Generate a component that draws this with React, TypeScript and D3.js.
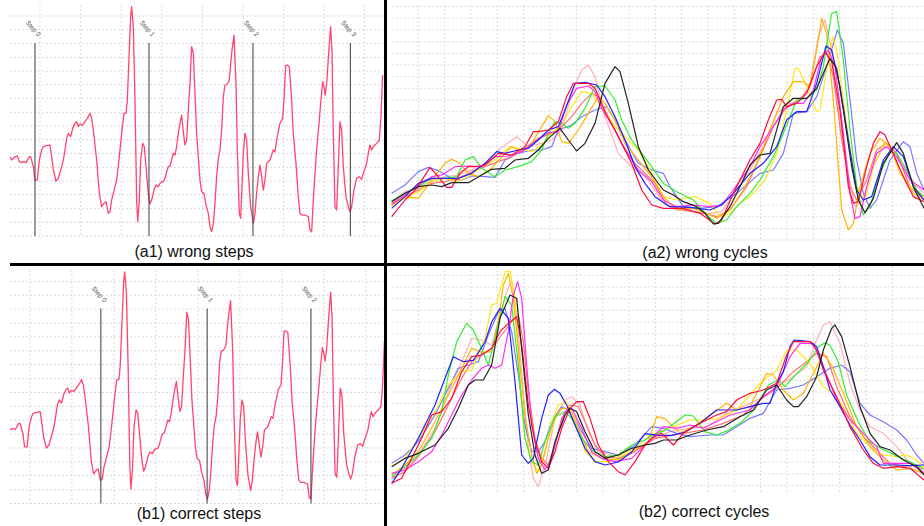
import React from "react";
import * as d3 from "d3";

const W = 924;
const H = 526;

// ---------- gait acceleration signal: [sample, amplitude] ----------
const signal: [number, number][] = [
  [0,240],[5,230],[15,240],[22,242],[28,225],[35,222],[42,225],[48,222],[58,240],[62,240],[70,210],[75,170],[82,170],[88,230],[95,260],[100,270],[110,273],[120,275],[125,240],[130,200],[138,167],[145,175],[155,210],[160,230],[165,260],[170,295],[175,310],[182,300],[188,325],[195,340],[200,345],[205,330],[210,338],[218,335],[225,345],[232,355],[240,370],[245,355],[250,320],[260,230],[268,130],[275,90],[282,100],[288,105],[295,70],[300,75],[305,110],[315,150],[320,170],[328,240],[335,310],[342,370],[348,370],[352,410],[358,560],[362,660],[365,690],[370,630],[375,410],[380,110],[383,45],[388,110],[392,230],[398,280],[403,270],[408,210],[415,130],[420,98],[425,110],[432,140],[438,155],[445,150],[450,160],[455,165],[460,165],[465,175],[470,195],[475,210],[480,212],[485,230],[490,250],[495,245],[500,270],[505,310],[510,340],[515,365],[520,315],[525,275],[530,290],[535,380],[540,460],[545,570],[550,550],[555,430],[560,310],[570,170],[575,135],[582,130],[588,95],[595,70],[600,30],[605,15],[610,40],[615,100],[620,180],[625,235],[630,260],[635,320],[640,420],[645,455],[652,458],[658,470],[665,550],[672,605],[678,460],[682,260],[688,70],[692,55],[696,150],[700,250],[705,310],[710,290],[715,190],[722,90],[730,40],[735,70],[740,130],[745,180],[750,215],[755,180],[760,140],[765,170],[770,220],[775,225],[780,230],[785,245],[790,260],[795,255],[800,290],[805,315],[810,340],[818,355],[822,410],[827,513],[832,515],[838,510],[845,410],[850,310],[858,220],[865,120],[870,70],[875,65],[885,65],[895,60],[900,20],[905,15],[910,110],[915,190],[920,260],[928,350],[933,410],[938,465],[942,450],[946,425],[951,470],[956,550],[962,630],[966,560],[970,310],[975,90],[980,80],[985,210],[990,345],[995,320],[1000,210],[1008,120],[1015,90],[1020,75],[1025,90],[1032,140],[1040,175],[1048,180],[1055,172],[1060,190],[1070,220],[1075,250],[1080,275],[1085,260],[1090,270],[1100,280],[1108,290],[1113,360],[1118,485]
];
const wrongSteps = [75, 417, 729, 1021];
const correctSteps = [296, 604, 905];
const stepLineSpan: [number, number] = [2, 581];
const stepGridT = [90, 212, 334, 455, 577, 699, 821, 943, 1064];
const stepGridV = [2, 43, 85, 126, 167, 208, 250, 291, 332, 373, 415, 456, 497, 538, 580, 621, 662];

// ---------- cycles: [sample, amplitude] ----------
const cycleGridT = [80, 159, 238, 317, 396, 475, 554, 633, 712, 791, 870, 949, 1028, 1107, 1186, 1265, 1344, 1423, 1502];
const wrongGridA = d3.range(0, 701, 35);
const correctGridA = d3.range(50, 681, 35);

const cycleColors = ["#ffb0b0", "#7a7aff", "#ff7070", "#ffe81a", "#ffb400", "#33ee33", "#ff30f0", "#2020ff", "#ff0a3c", "#222222"];

const wrongPink: [number, number][] = [[0,115],[40,145],[80,155],[120,178],[160,190],[200,195],[240,210],[280,225],[320,270],[375,310],[410,280],[450,290],[480,300],[510,330],[540,440],[570,510],[590,525],[610,490],[640,370],[680,260],[720,220],[760,190],[790,150],[815,110],[855,90],[905,85],[955,80],[990,85],[1025,135],[1075,210],[1115,280],[1155,380],[1195,410],[1225,420],[1255,470],[1280,610],[1300,660],[1320,570],[1345,360],[1370,200],[1390,100],[1415,120],[1445,220],[1475,280],[1505,275],[1535,220],[1575,160],[1597,140]];
const wrongLavender: [number, number][] = [[0,140],[40,165],[80,205],[110,218],[140,208],[180,185],[210,180],[240,192],[280,190],[310,188],[340,240],[380,260],[420,270],[450,270],[480,280],[500,330],[540,345],[570,370],[610,390],[645,400],[670,360],[700,300],[740,230],[780,210],[815,200],[835,160],[875,100],[925,95],[975,100],[1035,140],[1105,200],[1145,210],[1175,260],[1205,380],[1245,385],[1275,430],[1305,520],[1337,630],[1355,590],[1375,420],[1395,240],[1415,140],[1435,95],[1455,120],[1495,240],[1535,295],[1555,280],[1575,200],[1597,150]];
const wrongCoral: [number, number][] = [[0,105],[40,130],[80,150],[120,170],[160,175],[200,185],[240,205],[280,220],[320,235],[360,250],[400,275],[440,305],[480,320],[510,340],[540,370],[570,410],[600,440],[620,430],[650,370],[690,290],[730,230],[770,190],[790,170],[825,105],[875,90],[935,80],[975,70],[1015,90],[1065,160],[1105,250],[1145,340],[1185,400],[1225,420],[1255,460],[1285,550],[1305,560],[1325,490],[1350,300],[1375,160],[1395,120],[1425,180],[1455,270],[1485,290],[1515,260],[1555,160],[1597,120]];
const wrongYellow: [number, number][] = [[0,102],[40,125],[80,145],[120,175],[160,185],[195,175],[230,190],[270,220],[310,240],[355,280],[380,275],[420,265],[450,285],[480,320],[510,345],[540,400],[570,445],[600,440],[630,400],[670,340],[700,310],[740,270],[770,220],[790,180],[815,130],[855,120],[910,130],[955,110],[985,70],[1015,80],[1045,110],[1075,130],[1120,180],[1155,260],[1185,390],[1210,515],[1220,515],[1245,460],[1275,385],[1285,390],[1305,510],[1323,610],[1335,570],[1355,420],[1375,270],[1395,160],[1420,120],[1445,220],[1475,290],[1495,280],[1525,200],[1555,160],[1597,130]];
const wrongOrange: [number, number][] = [[0,110],[40,130],[80,125],[120,180],[160,230],[180,242],[205,230],[230,200],[260,190],[300,215],[340,260],[360,280],[390,265],[420,290],[450,340],[470,373],[490,355],[510,295],[530,290],[560,330],[590,380],[620,430],[640,410],[670,360],[700,290],[740,240],[780,190],[815,130],[855,90],[905,95],[945,80],[975,65],[1015,90],[1055,150],[1095,230],[1135,330],[1175,430],[1205,475],[1235,475],[1255,460],[1275,570],[1290,665],[1305,620],[1325,420],[1350,90],[1370,30],[1385,50],[1405,160],[1435,260],[1465,305],[1495,280],[1525,210],[1565,140],[1597,120]];
const wrongGreen: [number, number][] = [[0,118],[40,140],[80,160],[120,185],[160,185],[195,190],[220,240],[245,250],[270,215],[310,190],[340,210],[380,220],[420,235],[450,270],[470,320],[490,355],[510,350],[530,335],[550,350],[580,395],[610,460],[640,462],[670,420],[690,360],[720,300],[750,260],[780,220],[815,170],[855,145],[905,120],[950,70],[975,50],[1005,60],[1035,100],[1075,140],[1105,180],[1145,250],[1175,320],[1195,370],[1215,420],[1245,425],[1275,450],[1295,520],[1320,680],[1335,685],[1355,540],[1375,330],[1395,160],[1415,75],[1435,100],[1465,200],[1495,265],[1515,260],[1545,210],[1575,150],[1597,130]];
const wrongMagenta: [number, number][] = [[0,108],[40,135],[80,165],[120,190],[150,195],[190,220],[230,222],[270,220],[310,250],[350,252],[390,265],[430,295],[470,322],[500,325],[525,405],[555,455],[590,462],[610,445],[630,395],[670,330],[700,270],[740,210],[780,175],[815,120],[855,100],[905,105],[955,100],[990,105],[1025,150],[1075,220],[1105,280],[1145,340],[1175,390],[1205,410],[1235,410],[1265,450],[1290,550],[1310,570],[1330,520],[1355,320],[1375,140],[1390,65],[1405,70],[1425,160],[1455,260],[1485,280],[1515,250],[1555,180],[1597,150]];
const wrongBlue: [number, number][] = [[0,95],[40,130],[80,170],[120,185],[160,185],[200,185],[240,200],[280,230],[315,265],[340,260],[380,270],[410,275],[440,300],[470,330],[500,340],[520,390],[550,470],[580,473],[615,465],[640,430],[670,370],[700,300],[730,220],[760,170],[790,130],[835,100],[895,98],[955,90],[990,105],[1025,140],[1075,200],[1115,230],[1155,280],[1185,360],[1215,385],[1245,385],[1275,470],[1303,582],[1320,570],[1345,460],[1375,270],[1395,150],[1415,120],[1440,130],[1475,240],[1505,280],[1535,250],[1565,160],[1597,120]];
const wrongRed: [number, number][] = [[0,70],[40,120],[75,155],[115,218],[140,190],[165,158],[180,158],[205,200],[230,220],[255,220],[280,225],[320,260],[360,255],[400,280],[425,325],[440,325],[470,330],[500,355],[525,430],[545,470],[590,470],[610,455],[640,385],[680,310],[720,230],[750,150],[780,105],[815,95],[875,95],[925,80],[970,48],[990,60],[1025,140],[1075,240],[1105,290],[1130,360],[1155,420],[1170,422],[1185,400],[1215,410],[1245,440],[1275,520],[1300,565],[1320,535],[1345,390],[1370,160],[1385,110],[1400,115],[1425,220],[1445,290],[1465,325],[1480,315],[1500,270],[1535,190],[1565,130],[1597,115]];
const wrongBlack: [number, number][] = [[0,115],[40,140],[80,160],[120,165],[150,160],[180,172],[230,172],[270,195],[300,212],[340,215],[370,240],[410,245],[440,270],[470,305],[505,335],[530,300],[555,267],[580,290],[610,350],[640,470],[670,520],[685,505],[710,410],[740,280],[770,210],[815,150],[845,135],[875,115],[915,100],[940,80],[965,48],[980,50],[1015,100],[1050,170],[1075,225],[1105,255],[1135,260],[1175,400],[1205,425],[1245,425],[1275,455],[1315,545],[1335,515],[1355,390],[1380,220],[1400,120],[1420,82],[1445,125],[1475,230],[1515,292],[1535,260],[1565,160],[1597,95]];

const correctPink: [number, number][] = [[0,71],[40,101],[80,141],[130,221],[170,331],[210,421],[240,491],[270,486],[300,471],[325,561],[345,631],[360,666],[375,561],[395,331],[410,161],[425,71],[440,46],[460,111],[490,251],[520,306],[540,316],[565,291],[590,211],[620,151],[660,141],[700,141],[750,166],[790,191],[835,211],[895,221],[945,226],[1005,266],[1075,296],[1115,316],[1155,346],[1205,376],[1245,406],[1275,486],[1295,531],[1315,541],[1345,476],[1375,356],[1405,276],[1435,226],[1475,206],[1515,166],[1555,116],[1597,96]];
const correctLavender: [number, number][] = [[0,116],[40,141],[80,181],[130,261],[170,341],[200,401],[230,411],[260,421],[290,501],[320,571],[340,581],[360,511],[380,381],[400,231],[420,151],[440,151],[460,181],[480,241],[510,286],[540,271],[570,211],[600,161],[640,151],[680,141],[730,171],[780,226],[815,221],[855,206],[895,196],[955,201],[995,201],[1035,226],[1075,251],[1115,266],[1155,336],[1195,341],[1235,351],[1275,376],[1315,401],[1350,411],[1375,391],[1405,296],[1435,261],[1475,241],[1515,216],[1545,186],[1575,141],[1597,116]];
const correctCoral: [number, number][] = [[0,71],[40,91],[80,136],[130,211],[170,291],[210,371],[240,421],[270,441],[300,461],[330,501],[360,541],[380,561],[395,481],[410,331],[430,191],[450,131],[470,111],[490,171],[510,251],[535,291],[560,286],[580,241],[610,171],[640,136],[680,131],[720,146],[760,171],[790,191],[875,206],[935,216],[995,236],[1055,261],[1105,306],[1155,341],[1205,391],[1245,421],[1275,446],[1305,436],[1335,346],[1375,256],[1415,196],[1455,156],[1495,116],[1535,106],[1575,111],[1597,86]];
const correctYellow: [number, number][] = [[0,106],[40,131],[80,191],[130,271],[170,351],[210,391],[240,396],[280,491],[300,591],[315,596],[340,691],[355,693],[370,611],[385,361],[400,191],[420,121],[440,91],[460,151],[480,241],[500,291],[525,301],[550,251],[580,151],[610,121],[650,121],[690,141],[730,161],[775,200],[815,215],[855,230],[895,246],[935,246],[980,250],[1035,276],[1105,356],[1155,396],[1185,456],[1215,456],[1255,416],[1295,346],[1325,326],[1355,286],[1395,206],[1435,166],[1475,141],[1515,136],[1545,141],[1575,126],[1597,106]];
const correctOrange: [number, number][] = [[0,81],[40,111],[80,151],[130,241],[170,321],[210,401],[240,461],[270,449],[300,451],[320,541],[335,651],[350,686],[365,611],[380,461],[400,261],[420,141],[435,86],[450,111],[470,191],[490,251],[510,281],[530,281],[560,221],[590,151],[630,131],[680,126],[720,151],[770,181],[795,256],[820,250],[865,206],[905,226],[940,250],[1005,296],[1035,276],[1075,286],[1125,386],[1145,381],[1175,336],[1205,306],[1235,326],[1275,406],[1295,446],[1320,410],[1355,326],[1395,226],[1435,166],[1475,126],[1515,96],[1555,101],[1597,86]];
const correctGreen: [number, number][] = [[0,76],[40,106],[80,141],[120,191],[150,271],[170,381],[195,481],[225,536],[245,516],[265,471],[290,411],[315,511],[340,616],[360,591],[380,411],[400,191],[420,121],[440,111],[460,181],[490,256],[520,271],[540,251],[570,191],[600,156],[640,136],[680,141],[720,171],[760,186],[775,196],[820,215],[860,245],[880,261],[905,258],[940,211],[975,201],[1010,215],[1050,240],[1090,280],[1130,351],[1160,366],[1180,346],[1210,380],[1250,420],[1280,465],[1300,478],[1315,470],[1340,420],[1365,320],[1400,240],[1435,180],[1460,165],[1510,140],[1555,120],[1597,100]];
const correctMagenta: [number, number][] = [[0,86],[40,96],[80,121],[120,151],[150,201],[180,261],[210,321],[240,366],[270,401],[290,411],[310,401],[330,411],[350,511],[365,621],[378,661],[390,611],[405,411],[420,231],[440,131],[460,96],[480,131],[500,211],[520,271],[540,281],[570,221],[600,151],[630,131],[670,121],[720,131],[760,171],[790,201],[815,226],[855,221],[895,231],[935,221],[1015,261],[1075,276],[1115,316],[1155,346],[1195,436],[1225,476],[1265,476],[1295,406],[1335,306],[1375,246],[1415,206],[1455,166],[1475,116],[1515,116],[1555,116],[1597,86]];
const correctBlue: [number, number][] = [[0,56],[30,101],[80,191],[130,291],[160,371],[185,436],[215,421],[245,425],[280,480],[300,540],[325,581],[350,551],[370,361],[390,141],[410,116],[425,131],[450,251],[470,321],[488,338],[505,326],[525,291],[550,231],[580,161],[610,121],[640,111],[680,120],[720,150],[760,205],[800,200],[840,200],[880,210],[925,236],[975,276],[1035,276],[1075,286],[1115,296],[1135,296],[1155,356],[1175,391],[1195,466],[1207,486],[1255,481],[1275,466],[1295,406],[1315,336],[1345,286],[1375,231],[1405,186],[1435,136],[1465,111],[1515,111],[1555,109],[1597,111]];
const correctRed: [number, number][] = [[0,56],[30,71],[60,131],[90,191],[120,261],[150,271],[180,311],[210,391],[240,436],[270,441],[300,461],[325,511],[350,536],[375,556],[390,471],[410,291],[430,181],[450,121],[470,101],[490,151],[510,221],[535,281],[555,301],[575,301],[595,251],[620,171],[650,121],[680,91],[700,81],[730,121],[760,171],[780,191],[810,206],[845,171],[875,206],[925,236],[975,261],[1005,271],[1035,306],[1075,326],[1115,336],[1155,356],[1185,441],[1205,481],[1255,481],[1275,456],[1295,396],[1335,316],[1375,226],[1415,156],[1445,116],[1475,101],[1515,106],[1555,101],[1597,66]];
const correctBlack: [number, number][] = [[0,106],[40,131],[80,146],[130,171],[170,221],[200,281],[230,351],[250,366],[275,366],[300,411],[325,551],[355,621],[375,611],[390,461],[410,261],[430,141],[450,86],[470,96],[490,181],[520,261],[535,281],[555,271],[580,211],[610,151],[640,131],[680,141],[720,161],[760,171],[790,176],[815,186],[855,186],[895,201],[945,216],[995,226],[1045,256],[1085,276],[1125,336],[1155,351],[1185,306],[1205,286],[1220,286],[1245,316],[1275,376],[1295,456],[1320,521],[1330,531],[1350,496],[1375,406],[1405,286],[1435,206],[1465,166],[1495,156],[1535,126],[1575,106],[1597,81]];

const wrongCycles = [wrongPink, wrongLavender, wrongCoral, wrongYellow, wrongOrange, wrongGreen, wrongMagenta, wrongBlue, wrongRed, wrongBlack];
const correctCycles = [correctPink, correctLavender, correctCoral, correctYellow, correctOrange, correctGreen, correctMagenta, correctBlue, correctRed, correctBlack];

const FONT = "'Liberation Sans', Arial, Helvetica, sans-serif";
const GRID = "#d9d9d9";
const SIGNAL = "#ff4470";

type Scale = d3.ScaleLinear<number, number>;

function StepsPanel(props: {
  id: string; x: Scale; y: Scale; steps: number[]; clip: [number, number, number, number];
  gridTop: number; label: string; labelX: number; labelY: number;
}) {
  const { id, x, y, steps, clip, gridTop, label, labelX, labelY } = props;
  const [xl, xr] = x.range();
  const line = d3.line<[number, number]>().x(d => x(d[0])).y(d => y(d[1]));
  const gridBottom = y(stepGridV[0]);
  return (
    <g>
      <defs>
        <clipPath id={id}><rect x={clip[0]} y={clip[1]} width={clip[2]} height={clip[3]} /></clipPath>
      </defs>
      <g clipPath={`url(#${id})`}>
        {stepGridV.map((v, i) => (
          <line key={"h" + i} x1={xl} x2={xr} y1={y(v)} y2={y(v)} stroke={GRID} strokeWidth={1} strokeDasharray="2,2" />
        ))}
        {stepGridT.map((t, i) => (
          <line key={"v" + i} x1={x(t)} x2={x(t)} y1={gridTop} y2={gridBottom} stroke={GRID} strokeWidth={1} strokeDasharray="2,2" />
        ))}
        <path d={line(signal) || ""} fill="none" stroke={SIGNAL} strokeWidth={1.3} strokeLinejoin="round" />
        {steps.map((s, i) => (
          <g key={"s" + i}>
            <line x1={x(s)} x2={x(s)} y1={y(stepLineSpan[1])} y2={y(stepLineSpan[0])} stroke="#3a3a3a" strokeWidth={1} />
            <text transform={`translate(${x(s) + 3},${y(stepLineSpan[1]) - 6}) rotate(48)`} textAnchor="end"
              fontSize={6.5} fill="#555" fontFamily={FONT}>{`Step ${i}`}</text>
          </g>
        ))}
      </g>
      <text x={labelX} y={labelY} textAnchor="middle" fontSize={16} fontFamily={FONT} fill="#111">{label}</text>
    </g>
  );
}

function CyclesPanel(props: {
  id: string; x: Scale; y: Scale; series: [number, number][][]; gridA: number[]; clip: [number, number, number, number];
  gridTop: number; gridBottom: number; label: string; labelX: number; labelY: number;
}) {
  const { id, x, y, series, gridA, clip, gridTop, gridBottom, label, labelX, labelY } = props;
  const [xl, xr] = x.range();
  const line = d3.line<[number, number]>().x(d => x(d[0])).y(d => y(d[1]));
  return (
    <g>
      <defs>
        <clipPath id={id}><rect x={clip[0]} y={clip[1]} width={clip[2]} height={clip[3]} /></clipPath>
      </defs>
      <g clipPath={`url(#${id})`}>
        {gridA.map((a, i) => (
          <line key={"h" + i} x1={xl} x2={xr + 2} y1={y(a)} y2={y(a)} stroke={GRID} strokeWidth={1} strokeDasharray="2,2" />
        ))}
        {cycleGridT.map((t, i) => (
          <line key={"v" + i} x1={x(t)} x2={x(t)} y1={gridTop} y2={gridBottom} stroke={GRID} strokeWidth={1} strokeDasharray="2,2" />
        ))}
        {series.map((s, i) => (
          <path key={"c" + i} d={line(s) || ""} fill="none" stroke={cycleColors[i]} strokeWidth={1.2} strokeLinejoin="round" />
        ))}
      </g>
      <text x={labelX} y={labelY} textAnchor="middle" fontSize={16} fontFamily={FONT} fill="#111">{label}</text>
    </g>
  );
}

export default function App() {
  const xA1 = d3.scaleLinear().domain([0, 1120]).range([10, 383.3]);
  const yA1 = d3.scaleLinear().domain([0, 710]).range([236.7, 0]);
  const xB1 = d3.scaleLinear().domain([32.6, 1114.7]).range([10, 383.3]);
  const yB1 = d3.scaleLinear().domain([2, 690]).range([503.5, 272]);
  const xC = d3.scaleLinear().domain([0, 1596]).range([391.67, 923.67]);
  const yA2 = d3.scaleLinear().domain([0, 720]).range([240, 0]);
  const yB2 = d3.scaleLinear().domain([0, 720]).range([502, 262]);

  return (
    <svg width={W} height={H} viewBox={`0 0 ${W} ${H}`}
      style={{ position: "absolute", left: 0, top: 0, background: "#fff", display: "block" }}>
      <rect x={0} y={0} width={W} height={H} fill="#fff" />
      <StepsPanel id="clipA1" x={xA1} y={yA1} steps={wrongSteps} clip={[10, 0, 374, 262]} gridTop={5}
        label="(a1) wrong steps" labelX={194} labelY={257} />
      <StepsPanel id="clipB1" x={xB1} y={yB1} steps={correctSteps} clip={[10, 266, 374, 260]} gridTop={270}
        label="(b1) correct steps" labelX={199} labelY={519} />
      <CyclesPanel id="clipA2" x={xC} y={yA2} series={wrongCycles} gridA={wrongGridA} clip={[388, 0, 536, 262]}
        gridTop={5} gridBottom={240} label="(a2) wrong cycles" labelX={705} labelY={258} />
      <CyclesPanel id="clipB2" x={xC} y={yB2} series={correctCycles} gridA={correctGridA} clip={[388, 266, 536, 260]}
        gridTop={266} gridBottom={492} label="(b2) correct cycles" labelX={704} labelY={517} />
      <line x1={385.5} x2={385.5} y1={0} y2={H} stroke="#000" strokeWidth={3} />
      <line x1={10} x2={W} y1={264.5} y2={264.5} stroke="#000" strokeWidth={3} />
    </svg>
  );
}
